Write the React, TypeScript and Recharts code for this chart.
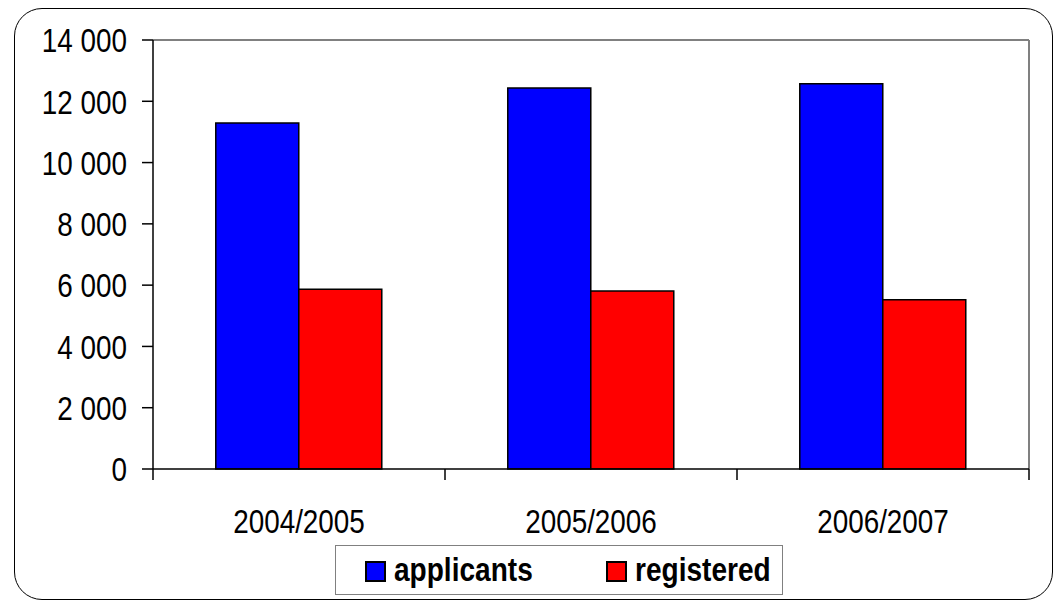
import React from "react";
import { BarChart, Bar, XAxis, YAxis, ReferenceLine, Legend } from "recharts";

const categories = ["2004/2005", "2005/2006", "2006/2007"];
const applicants = [11290, 12430, 12570];
const registered = [5870, 5810, 5520];
const yTicks = [0, 2000, 4000, 6000, 8000, 10000, 12000, 14000];
const boundaryTicks = [0, 1, 2, 3];
const seriesNames = ["applicants", "registered"];
const seriesColors = ["#0000FF", "#FF0000"];

const data = categories.map((c, i) => ({
  name: c,
  idx: i + 0.5,
  applicants: applicants[i],
  registered: registered[i],
}));

const FONT = "'Liberation Sans', Arial, sans-serif";
const SX = 0.82;

const fmt = (v: number) => String(v).replace(/\B(?=(\d{3})+(?!\d))/g, " ");

const YTick = (props: any) => {
  const { x, y, payload } = props;
  return (
    <text
      transform={`translate(${x},${y}) scale(${SX},1)`}
      textAnchor="end"
      dy="0.36em"
      fontSize={34}
      fontFamily={FONT}
      fill="#000"
    >
      {fmt(payload.value)}
    </text>
  );
};

const XTick = (props: any) => {
  const { x, payload } = props;
  return (
    <text
      transform={`translate(${x},533) scale(${SX},1)`}
      textAnchor="middle"
      fontSize={34}
      fontFamily={FONT}
      fill="#000"
    >
      {payload.value}
    </text>
  );
};

const EmptyTick = () => <g />;

const LegendBox = () => (
  <div
    style={{
      boxSizing: "border-box",
      width: 448,
      height: 50,
      border: "1.5px solid #808080",
      background: "#fff",
      position: "relative",
      fontFamily: FONT,
      fontWeight: "bold",
      fontSize: 33,
    }}
  >
    {seriesNames.map((n, i) => (
      <div
        key={n}
        style={{
          position: "absolute",
          left: i === 0 ? 29 : 270,
          top: 0,
          height: 47,
          display: "flex",
          alignItems: "center",
        }}
      >
        <div
          style={{
            boxSizing: "border-box",
            width: 21,
            height: 21,
            background: seriesColors[i],
            border: "2px solid #000",
            marginRight: 8,
            marginTop: 4,
          }}
        />
        <span
          style={{
            lineHeight: "47px",
            display: "inline-block",
            transform: "scaleX(0.85)",
            transformOrigin: "left center",
            whiteSpace: "nowrap",
          }}
        >
          {n}
        </span>
      </div>
    ))}
  </div>
);

export default function App() {
  return (
    <div
      style={{
        position: "absolute",
        left: 0,
        top: 0,
        width: 1053,
        height: 600,
        background: "#fff",
        overflow: "hidden",
      }}
    >
      <div
        style={{
          position: "absolute",
          left: 14,
          top: 8,
          width: 1039,
          height: 592,
          boxSizing: "border-box",
          border: "1.5px solid #000",
          borderRadius: 28,
        }}
      />
      <div style={{ position: "absolute", left: 0, top: 0 }}>
        <BarChart
          width={1053}
          height={600}
          data={data}
          margin={{ top: 40, right: 24, bottom: 20, left: 0 }}
          barCategoryGap="21.5%"
          barGap={0}
        >
          <XAxis
            xAxisId={1}
            type="number"
            dataKey="idx"
            domain={[0, 3]}
            ticks={boundaryTicks}
            tick={<EmptyTick />}
            tickSize={11}
            height={1}
            stroke="#000"
            strokeWidth={1.5}
          />
          <XAxis
            xAxisId={2}
            dataKey="name"
            tickLine={false}
            axisLine={false}
            tickSize={0}
            height={60}
            tick={<XTick />}
          />
          <YAxis
            domain={[0, 14000]}
            ticks={yTicks}
            width={153}
            tickSize={11}
            tickMargin={15}
            stroke="#000"
            strokeWidth={1.5}
            tick={<YTick />}
            interval={0}
          />
          <ReferenceLine y={14000} xAxisId={1} stroke="#808080" strokeWidth={2} />
          <ReferenceLine x={3} xAxisId={1} stroke="#808080" strokeWidth={2} />
          <Legend
            verticalAlign="bottom"
            content={() => <LegendBox />}
            wrapperStyle={{ position: "absolute", left: 335, top: 545, width: 448, height: 50, bottom: "auto" }}
          />
          <Bar
            xAxisId={2}
            dataKey="applicants"
            fill={seriesColors[0]}
            stroke="#000"
            strokeWidth={1.5}
            isAnimationActive={false}
          />
          <Bar
            xAxisId={2}
            dataKey="registered"
            fill={seriesColors[1]}
            stroke="#000"
            strokeWidth={1.5}
            isAnimationActive={false}
          />
        </BarChart>
      </div>
    </div>
  );
}
